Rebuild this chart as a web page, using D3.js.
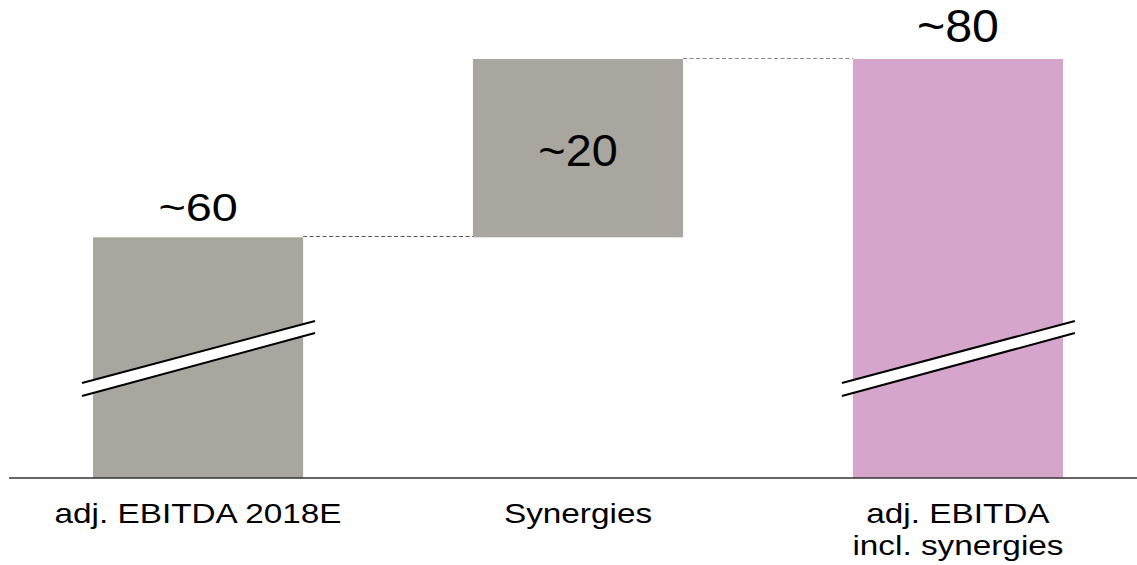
<!DOCTYPE html>
<html><head><meta charset="utf-8">
<script src="https://cdn.jsdelivr.net/npm/d3@7"></script>
<style>body{margin:0;background:#fff}svg{display:block}text{font-family:"Liberation Sans",Arial,sans-serif;fill:#000}</style>
</head><body><div id="chart"></div>
<script>
const categories = ["adj. EBITDA 2018E", "Synergies", "adj. EBITDA incl. synergies"];
const labelLines = [["adj. EBITDA 2018E"], ["Synergies"], ["adj. EBITDA", "incl. synergies"]];
const starts = [0, 60, 0];
const ends = [60, 80, 80];
const valueLabels = ["~60", "~20", "~80"];
const broken = [true, false, true];
const colors = ["#a9a59f", "#a9a59f", "#d5a5cc"];
const axisBreakFloor = 33; // values below this are hidden by the axis break

// text styling (font size, horizontal stretch, offset)
const valStyle = [{fs: 39, sx: 1.2, dy: -16}, {fs: 45, sx: 1.04, dy: 18}, {fs: 46, sx: 1.05, dy: -17}];

const W = 1137, H = 565, baseY = 478;
const svg = d3.select("#chart").append("svg").attr("width", W).attr("height", H);

const x = d3.scaleBand().domain(categories).range([93, 1063]).paddingInner(0.447).paddingOuter(0);
const y = d3.scaleLinear().domain([axisBreakFloor, 80]).range([baseY, 59]);
const yv = v => v <= 0 ? baseY : y(v);

const data = categories.map((c, i) => ({c, i, s: starts[i], e: ends[i], lab: valueLabels[i], br: broken[i], col: colors[i], lines: labelLines[i]}));

// bars
svg.selectAll("rect.bar").data(data).join("rect").attr("class", "bar")
  .attr("x", d => x(d.c)).attr("width", x.bandwidth())
  .attr("y", d => yv(d.e)).attr("height", d => yv(d.s) - yv(d.e))
  .attr("fill", d => d.col);

// connectors
const conn = [
  {x1: x(categories[0]) + x.bandwidth(), x2: x(categories[1]), v: ends[0], col: "#555"},
  {x1: x(categories[1]) + x.bandwidth(), x2: x(categories[2]), v: ends[1], col: "#888"}
];
svg.selectAll("line.conn").data(conn).join("line").attr("class", "conn")
  .attr("x1", d => d.x1).attr("x2", d => d.x2)
  .attr("y1", d => Math.round(y(d.v)) - 0.5).attr("y2", d => Math.round(y(d.v)) - 0.5)
  .attr("stroke", d => d.col).attr("stroke-width", 1).attr("stroke-dasharray", "4,2.5");

// axis break marks
const br = data.filter(d => d.br);
const bg = svg.selectAll("g.brk").data(br).join("g").attr("class", "brk")
  .attr("transform", d => `translate(${x(d.c) - 11},0)`);
bg.append("polygon").attr("points", "0,383 233,321 233,332 0,396").attr("fill", "#fff");
bg.append("line").attr("x1", 0).attr("y1", 383).attr("x2", 233).attr("y2", 321).attr("stroke", "#000").attr("stroke-width", 2);
bg.append("line").attr("x1", 0).attr("y1", 396).attr("x2", 233).attr("y2", 333).attr("stroke", "#000").attr("stroke-width", 2);

// baseline
svg.append("line").attr("x1", 9).attr("x2", W).attr("y1", baseY).attr("y2", baseY).attr("stroke", "#333").attr("stroke-width", 1.5);

// value labels
svg.selectAll("text.val").data(data).join("text").attr("class", "val")
  .attr("transform", d => {
    const st = valStyle[d.i];
    const cx = x(d.c) + x.bandwidth() / 2;
    const cy = d.s === 0 ? yv(d.e) + st.dy : (yv(d.s) + yv(d.e)) / 2 + st.dy;
    return `translate(${cx},${cy}) scale(${st.sx},1)`;
  })
  .attr("text-anchor", "middle").attr("font-size", d => valStyle[d.i].fs).text(d => d.lab);

// category labels
const cg = svg.selectAll("text.cat").data(data).join("text").attr("class", "cat")
  .attr("transform", d => `translate(${x(d.c) + x.bandwidth() / 2},523) scale(1.19,1)`)
  .attr("text-anchor", "middle").attr("font-size", 28);
cg.selectAll("tspan").data(d => d.lines).join("tspan")
  .attr("x", 0).attr("dy", (t, i) => i === 0 ? 0 : 32).text(t => t);
</script></body></html>
